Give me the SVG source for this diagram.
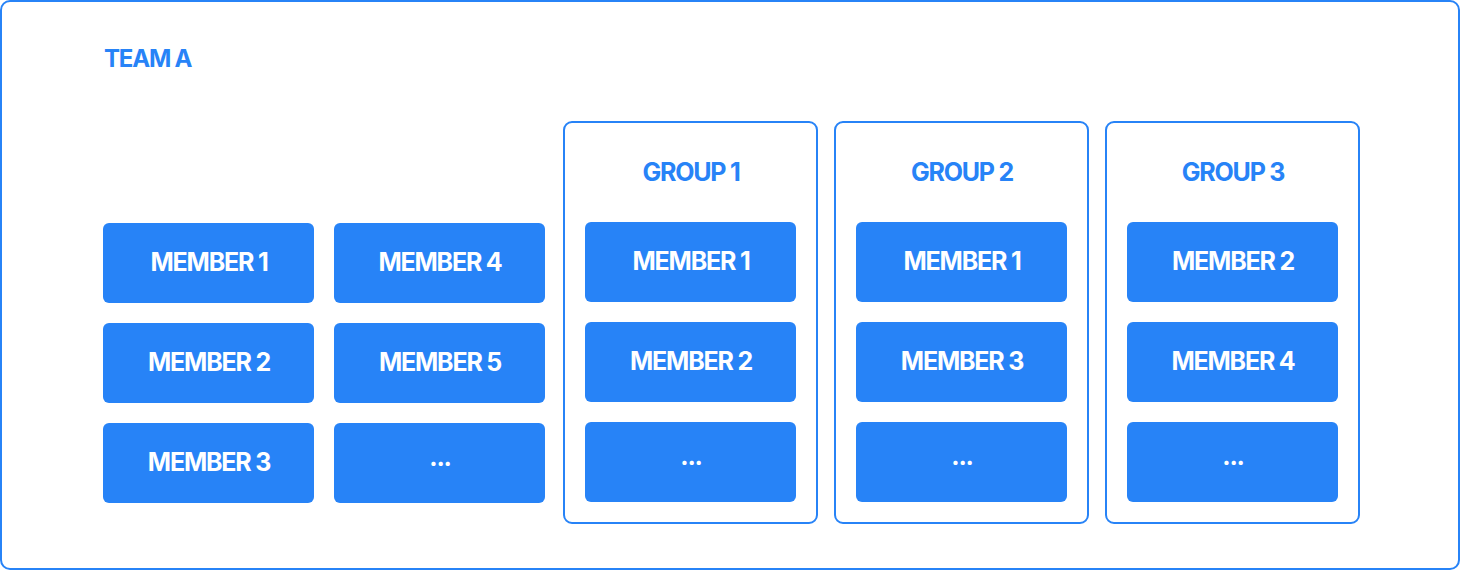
<svg xmlns="http://www.w3.org/2000/svg" width="1460" height="570" viewBox="0 0 1460 570">
<style>
.frame{fill:#fff;stroke:#2783f7;stroke-width:2}
.m{fill:#2783f7}
.t{font-family:Inter,"Noto Sans",sans-serif;font-weight:700;font-size:25px;letter-spacing:-1.2px;text-anchor:middle}
.w{fill:#fff}
.b{fill:#2783f7}
</style>
<rect width="1460" height="570" fill="#fff"/>
<g id="teamA">
<rect class="frame" x="1" y="1" width="1458" height="568" rx="9"/>
<text class="t b" x="104" y="67" style="text-anchor:start;font-size:24px">TEAM A</text>
</g>
<g id="pool">
<g id="p1"><rect class="m" x="103" y="223" width="211" height="80" rx="6"/><text class="t w" x="209" y="271">MEMBER 1</text></g>
<g id="p2"><rect class="m" x="103" y="323" width="211" height="80" rx="6"/><text class="t w" x="209" y="371">MEMBER 2</text></g>
<g id="p3"><rect class="m" x="103" y="423" width="211" height="80" rx="6"/><text class="t w" x="209" y="471">MEMBER 3</text></g>
<g id="p4"><rect class="m" x="334" y="223" width="211" height="80" rx="6"/><text class="t w" x="440" y="271">MEMBER 4</text></g>
<g id="p5"><rect class="m" x="334" y="323" width="211" height="80" rx="6"/><text class="t w" x="440" y="371">MEMBER 5</text></g>
<g id="p6"><rect class="m" x="334" y="423" width="211" height="80" rx="6"/><text class="t w" x="440" y="466">...</text></g>
</g>
<g id="group1">
<rect class="frame" x="564" y="122" width="253" height="401" rx="8"/>
<text class="t b" x="691" y="181">GROUP 1</text>
<rect class="m" x="585" y="222" width="211" height="80" rx="6"/><text class="t w" x="691" y="270">MEMBER 1</text>
<rect class="m" x="585" y="322" width="211" height="80" rx="6"/><text class="t w" x="691" y="370">MEMBER 2</text>
<rect class="m" x="585" y="422" width="211" height="80" rx="6"/><text class="t w" x="691" y="465">...</text>
</g>
<g id="group2">
<rect class="frame" x="835" y="122" width="253" height="401" rx="8"/>
<text class="t b" x="962" y="181">GROUP 2</text>
<rect class="m" x="856" y="222" width="211" height="80" rx="6"/><text class="t w" x="962" y="270">MEMBER 1</text>
<rect class="m" x="856" y="322" width="211" height="80" rx="6"/><text class="t w" x="962" y="370">MEMBER 3</text>
<rect class="m" x="856" y="422" width="211" height="80" rx="6"/><text class="t w" x="962" y="465">...</text>
</g>
<g id="group3">
<rect class="frame" x="1106" y="122" width="253" height="401" rx="8"/>
<text class="t b" x="1233" y="181">GROUP 3</text>
<rect class="m" x="1127" y="222" width="211" height="80" rx="6"/><text class="t w" x="1233" y="270">MEMBER 2</text>
<rect class="m" x="1127" y="322" width="211" height="80" rx="6"/><text class="t w" x="1233" y="370">MEMBER 4</text>
<rect class="m" x="1127" y="422" width="211" height="80" rx="6"/><text class="t w" x="1233" y="465">...</text>
</g>
<g id="connectors"></g>
</svg>
